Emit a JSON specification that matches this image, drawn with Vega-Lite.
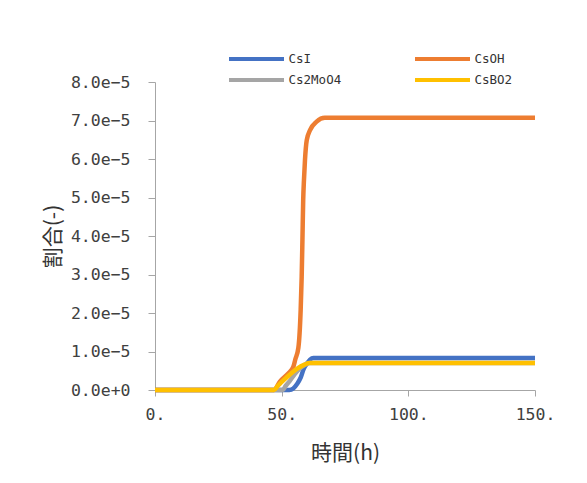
{
  "$schema": "https://vega.github.io/schema/vega-lite/v6.json",
  "width": 380,
  "height": 308,
  "autosize": {"type": "none"},
  "padding": {"left": 155, "top": 82, "right": 52, "bottom": 93},
  "background": "white",
  "config": {"view": {"stroke": null}},
  "data": {"values": [
    {"s": "CsI", "t": 0, "v": 0},
    {"s": "CsI", "t": 53, "v": 0},
    {"s": "CsI", "t": 54.6, "v": 0.04e-5},
    {"s": "CsI", "t": 56, "v": 0.15e-5},
    {"s": "CsI", "t": 57.5, "v": 0.32e-5},
    {"s": "CsI", "t": 58.7, "v": 0.55e-5},
    {"s": "CsI", "t": 59.9, "v": 0.68e-5},
    {"s": "CsI", "t": 61.2, "v": 0.79e-5},
    {"s": "CsI", "t": 62.5, "v": 0.83e-5},
    {"s": "CsI", "t": 150, "v": 0.83e-5},
    {"s": "CsOH", "t": 0, "v": 0},
    {"s": "CsOH", "t": 47, "v": 0},
    {"s": "CsOH", "t": 49.3, "v": 0.22e-5},
    {"s": "CsOH", "t": 52.6, "v": 0.43e-5},
    {"s": "CsOH", "t": 54.6, "v": 0.6e-5},
    {"s": "CsOH", "t": 55.4, "v": 0.8e-5},
    {"s": "CsOH", "t": 56.6, "v": 1.1e-5},
    {"s": "CsOH", "t": 57.5, "v": 2.08e-5},
    {"s": "CsOH", "t": 57.9, "v": 2.94e-5},
    {"s": "CsOH", "t": 58.2, "v": 3.9e-5},
    {"s": "CsOH", "t": 58.5, "v": 4.94e-5},
    {"s": "CsOH", "t": 58.8, "v": 5.45e-5},
    {"s": "CsOH", "t": 59.2, "v": 5.97e-5},
    {"s": "CsOH", "t": 59.9, "v": 6.49e-5},
    {"s": "CsOH", "t": 61.2, "v": 6.75e-5},
    {"s": "CsOH", "t": 63.8, "v": 6.97e-5},
    {"s": "CsOH", "t": 67, "v": 7.07e-5},
    {"s": "CsOH", "t": 150, "v": 7.07e-5},
    {"s": "Cs2MoO4", "t": 0, "v": 0},
    {"s": "Cs2MoO4", "t": 50.5, "v": 0},
    {"s": "Cs2MoO4", "t": 51.5, "v": 0.1e-5},
    {"s": "Cs2MoO4", "t": 53, "v": 0.22e-5},
    {"s": "Cs2MoO4", "t": 55, "v": 0.4e-5},
    {"s": "Cs2MoO4", "t": 57, "v": 0.55e-5},
    {"s": "Cs2MoO4", "t": 59, "v": 0.65e-5},
    {"s": "Cs2MoO4", "t": 61, "v": 0.7e-5},
    {"s": "Cs2MoO4", "t": 150, "v": 0.7e-5},
    {"s": "CsBO2", "t": 0, "v": 0},
    {"s": "CsBO2", "t": 47, "v": 0},
    {"s": "CsBO2", "t": 48.5, "v": 0.11e-5},
    {"s": "CsBO2", "t": 52, "v": 0.33e-5},
    {"s": "CsBO2", "t": 56, "v": 0.55e-5},
    {"s": "CsBO2", "t": 59, "v": 0.66e-5},
    {"s": "CsBO2", "t": 61, "v": 0.7e-5},
    {"s": "CsBO2", "t": 150, "v": 0.7e-5}
  ]},
  "mark": {"type": "line", "strokeWidth": 4.5, "interpolate": "monotone"},
  "encoding": {
    "x": {
      "field": "t", "type": "quantitative",
      "scale": {"domain": [0, 150], "nice": false},
      "axis": {
        "title": "時間(h)", "values": [0, 50, 100, 150],
        "labelExpr": "datum.value + '.'",
        "grid": false, "domainColor": "#a6a6a6", "tickColor": "#a6a6a6", "tickSize": 6,
        "labelFont": "DejaVu Sans Mono", "labelFontSize": 16.5, "labelColor": "#404040", "labelPadding": 10,
        "labelFlush": false, "labelOverlap": false,
        "titleFont": "Noto Sans CJK JP", "titleFontSize": 21, "titleFontWeight": "normal", "titleColor": "#333333", "titlePadding": 20
      }
    },
    "y": {
      "field": "v", "type": "quantitative",
      "scale": {"domain": [0, 8e-5], "nice": false},
      "axis": {
        "title": "割合(-)", "values": [0, 1e-5, 2e-5, 3e-5, 4e-5, 5e-5, 6e-5, 7e-5, 8e-5],
        "labelExpr": "replace(format(datum.value, '.1e'), '-', '−')",
        "grid": false, "domainColor": "#a6a6a6", "tickColor": "#a6a6a6", "tickSize": 7,
        "labelFont": "DejaVu Sans Mono", "labelFontSize": 16.5, "labelColor": "#404040", "labelPadding": 18,
        "labelFlush": false, "labelOverlap": false,
        "titleFont": "Noto Sans CJK JP", "titleFontSize": 21, "titleFontWeight": "normal", "titleColor": "#333333", "titlePadding": 7
      }
    },
    "color": {
      "field": "s", "type": "nominal",
      "scale": {"domain": ["CsI", "CsOH", "Cs2MoO4", "CsBO2"], "range": ["#4472C4", "#ED7D31", "#A5A5A5", "#FFC000"]},
      "legend": {
        "title": null, "orient": "none", "legendX": 72, "legendY": -36, "columns": 2, "direction": "horizontal",
        "padding": 0, "rowPadding": 0, "columnPadding": 65,
        "symbolType": "M-2.5,0H2.5", "symbolSize": 484, "symbolStrokeWidth": 4, "symbolOffset": 16.5,
        "labelOffset": 19, "labelFont": "DejaVu Sans Mono", "labelFontSize": 12.5, "labelColor": "#333333"
      }
    }
  }
}
